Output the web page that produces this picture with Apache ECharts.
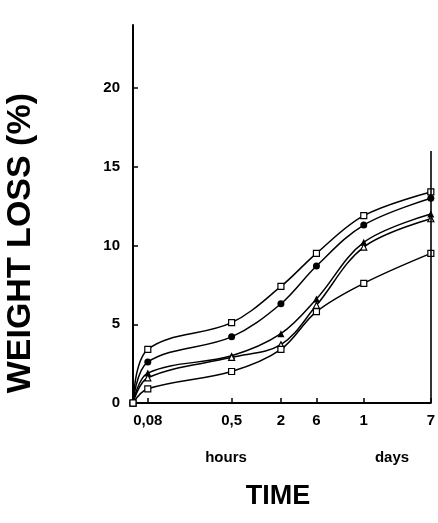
<!DOCTYPE html>
<html>
<head>
<meta charset="utf-8">
<script src="https://cdn.jsdelivr.net/npm/echarts@6/dist/echarts.min.js"></script>
<style>
  html, body { margin: 0; padding: 0; background: #fff; }
  #chart { width: 438px; height: 523px; }
</style>
</head>
<body>
<div id="chart"></div>
<script>
// time points: origin, 0.08 h, 0.5 h, 2 h, 6 h, 1 day, 7 days
// position of each time point on the (compressed, log-like) time axis
var timePos = [0, 15, 100, 150, 186, 234, 302];
var timeLabels = ['', '0,08', '0,5', '2', '6', '1', '7'];
var yTicks = [0, 5, 10, 15, 20];

// weight loss (%) per curve
var openSquareTop = [0, 3.4, 5.1, 7.4, 9.5, 11.9, 13.4];
var filledCircle = [0, 2.6, 4.2, 6.3, 8.7, 11.3, 13.0];
var filledTriangle = [0, 1.9, 3.0, 4.4, 6.6, 10.2, 12.0];
var openTriangle = [0, 1.6, 2.9, 3.7, 6.2, 9.9, 11.7];
var openSquareLow = [0, 0.9, 2.0, 3.4, 5.8, 7.6, 9.5];

var chart = echarts.init(document.getElementById('chart'));
var font = 'Liberation Sans';

function pairs(vals) {
    return vals.map(function (v, i) { return [timePos[i], v]; });
}

function curve(vals, symbol, filled, size) {
    return {
        type: 'line',
        data: pairs(vals),
        smooth: 0.35,
        symbol: symbol,
        symbolSize: size,
        showSymbol: true,
        lineStyle: { color: '#000', width: 1.5 },
        itemStyle: {
            color: filled ? '#000' : '#fff',
            borderColor: '#000',
            borderWidth: filled ? 0 : 1.2
        },
        z: filled ? 3 : 4
    };
}

var series = [
    curve(openSquareTop, 'rect', false, 6),
    curve(filledCircle, 'circle', true, 7),
    curve(filledTriangle, 'triangle', true, 7),
    curve(openTriangle, 'triangle', false, 6),
    curve(openSquareLow, 'rect', false, 6)
];
// right-hand frame line
series[0].markLine = {
    silent: true,
    symbol: 'none',
    label: { show: false },
    lineStyle: { color: '#000', width: 1.6, type: 'solid' },
    data: [[{ coord: [timePos[timePos.length - 1], 0] }, { coord: [timePos[timePos.length - 1], 16] }]]
};

option = {
    backgroundColor: '#fff',
    animation: false,
    grid: { left: 133, right: 3, top: 25, bottom: 120 },
    xAxis: {
        type: 'value',
        min: 0,
        max: timePos[timePos.length - 1],
        splitLine: { show: false },
        axisLine: { lineStyle: { color: '#000', width: 2 } },
        axisTick: {
            inside: true, length: 5,
            customValues: timePos.slice(1),
            lineStyle: { color: '#000', width: 1.5 }
        },
        axisLabel: {
            customValues: timePos.slice(1),
            formatter: function (v) { return timeLabels[timePos.indexOf(v)]; },
            color: '#000', fontFamily: font, fontWeight: 'bold', fontSize: 15, margin: 10
        }
    },
    yAxis: {
        type: 'value',
        min: 0,
        max: 24,
        splitLine: { show: false },
        axisLine: { lineStyle: { color: '#000', width: 2 } },
        axisTick: {
            inside: true, length: 5,
            customValues: yTicks,
            lineStyle: { color: '#000', width: 1.5 }
        },
        axisLabel: {
            customValues: yTicks,
            color: '#000', fontFamily: font, fontWeight: 'bold', fontSize: 15, margin: 13
        }
    },
    graphic: [
        {
            type: 'text', left: 4, top: 93,
            rotation: Math.PI / 2,
            style: { text: 'WEIGHT LOSS (%)', fill: '#000', font: 'bold 34px ' + font }
        },
        {
            type: 'text', x: 226, y: 458,
            style: { text: 'hours', fill: '#000', font: 'bold 15px ' + font, align: 'center', verticalAlign: 'middle' }
        },
        {
            type: 'text', x: 392, y: 458,
            style: { text: 'days', fill: '#000', font: 'bold 15px ' + font, align: 'center', verticalAlign: 'middle' }
        },
        {
            type: 'text', x: 278, y: 497,
            style: { text: 'TIME', fill: '#000', font: 'bold 27px ' + font, align: 'center', verticalAlign: 'middle' }
        }
    ],
    series: series
};

chart.setOption(option);
</script>
</body>
</html>
